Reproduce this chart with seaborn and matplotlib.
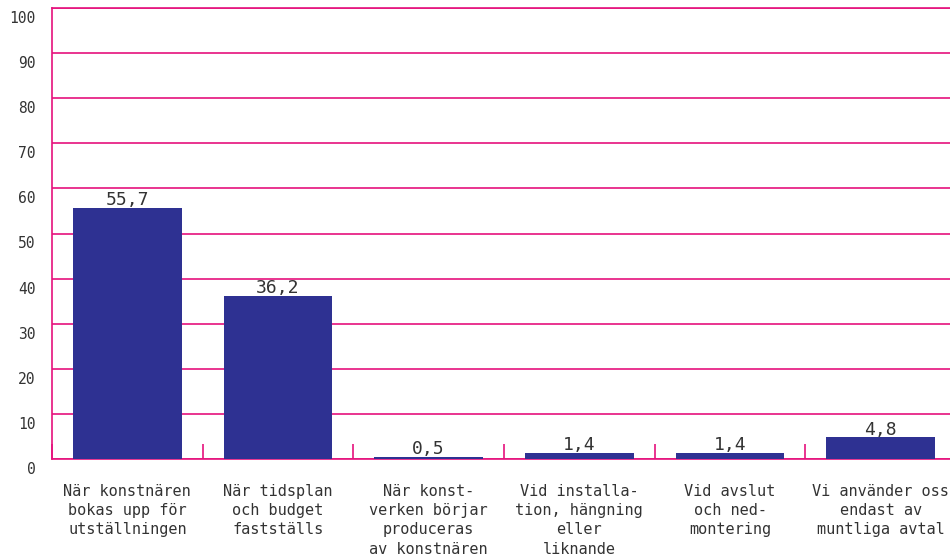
import matplotlib
matplotlib.use('Agg')

import matplotlib.pyplot as plt
import matplotlib.transforms as mtransforms
import pandas as pd
import seaborn as sns

sns.set_style("white")
plt.rcParams['font.family'] = ['DejaVu Sans Mono', 'DejaVu Sans']

# data

categories = [
    "När konstnären\nbokas upp för\nutställningen",
    "När tidsplan\noch budget\nfastställs",
    "När konst-\nverken börjar\nproduceras\nav konstnären",
    "Vid installa-\ntion, hängning\neller\nliknande",
    "Vid avslut\noch ned-\nmontering",
    "Vi använder oss\nendast av\nmuntliga avtal",
]
values = [55.7, 36.2, 0.5, 1.4, 1.4, 4.8]
value_labels = ["55,7", "36,2", "0,5", "1,4", "1,4", "4,8"]
yticks = [0, 10, 20, 30, 40, 50, 60, 70, 80, 90, 100]

pink = "#E5127D"
bar_color = "#2E3192"
text_color = "#333333"

df = pd.DataFrame({"cat": categories, "val": values})

fig = plt.figure(figsize=(9.5, 5.6), dpi=100)
ax = fig.add_axes([52 / 950, 101 / 560, 904 / 950, 451 / 560])

sns.barplot(data=df, x="cat", y="val", color=bar_color, width=0.72,
            saturation=1, linewidth=0, zorder=4, ax=ax)

ax.set_ylim(0, 100)
ax.set_xlim(-0.5, len(categories) - 0.5)
ax.set_yticks(yticks)
ax.set_xlabel("")
ax.set_ylabel("")

# pink grid lines
ax.set_axisbelow(True)
ax.yaxis.grid(True, color=pink, linewidth=1.2)
for side in ["left", "bottom", "top"]:
    ax.spines[side].set_color(pink)
    ax.spines[side].set_linewidth(1.2)
    ax.spines[side].set_zorder(1)
ax.spines["right"].set_visible(False)

# category separators as small ticks
ax.set_xticks([i + 0.5 for i in range(-1, len(categories) - 1)], minor=True)
ax.tick_params(axis="x", which="minor", bottom=True, direction="in",
               length=11, color=pink, width=1.2)
ax.tick_params(axis="x", which="major", bottom=True, length=0, pad=18,
               labelsize=11, labelcolor=text_color)
ax.tick_params(axis="y", length=0, pad=12, labelsize=10.5,
               labelcolor=text_color)
for lab in ax.get_xticklabels():
    lab.set_linespacing(1.35)
    lab.set_ha("center")

# y labels sit a little below their lines
offset = mtransforms.ScaledTranslation(0, -9 / 100, fig.dpi_scale_trans)
for lab in ax.get_yticklabels():
    lab.set_transform(lab.get_transform() + offset)

for i, (v, t) in enumerate(zip(values, value_labels)):
    ax.text(i, v - 0.3, t, ha="center", va="bottom", fontsize=13,
            color=text_color, zorder=5)

plt.savefig("out.png", dpi=100)
